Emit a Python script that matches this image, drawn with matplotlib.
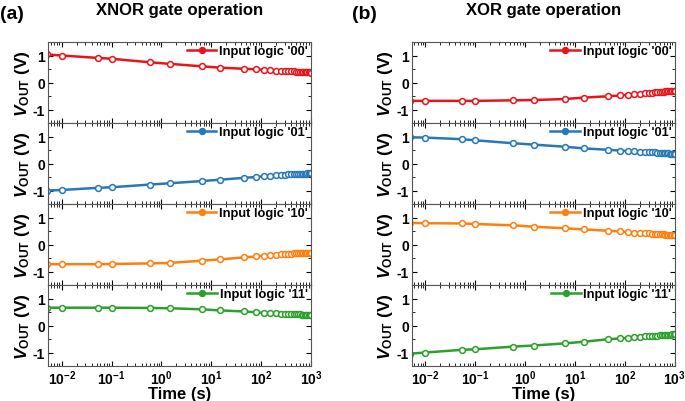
import matplotlib
matplotlib.use("Agg")
import matplotlib.pyplot as plt
from matplotlib.ticker import LogLocator, NullFormatter, MultipleLocator, FuncFormatter
import numpy as np

plt.rcParams['font.family'] = ['Liberation Sans', 'DejaVu Sans']
plt.rcParams['font.weight'] = 'bold'
plt.rcParams['axes.labelweight'] = 'bold'
plt.rcParams['axes.unicode_minus'] = False
plt.rcParams['mathtext.fontset'] = 'custom'
plt.rcParams['mathtext.rm'] = 'Liberation Sans:bold'
plt.rcParams['mathtext.it'] = 'Liberation Sans:bold:italic'
plt.rcParams['mathtext.bf'] = 'Liberation Sans:bold'

# measurement times (s)
time_s = [0.005, 0.01, 0.054, 0.1, 0.58, 1.5, 6.4, 15, 45, 80, 115, 150, 200,
          250, 300, 350, 400, 450, 500, 550, 600, 650, 700, 750, 800, 850,
          900, 950, 1000]

logic_labels = ["00", "01", "10", "11"]
colors = ['#e8141c', '#2878b8', '#ff7f0e', '#2ca02c']

# XNOR gate output (V)
xnor_00 = [1.04, 1.00, 0.91, 0.88, 0.75, 0.69, 0.60, 0.55, 0.51, 0.49, 0.47, 0.45, 0.44, 0.43, 0.42,
           0.42, 0.41, 0.41, 0.40, 0.40, 0.40, 0.39, 0.39, 0.39, 0.38, 0.38, 0.38, 0.38, 0.37]
xnor_01 = [-1.00, -0.98, -0.90, -0.88, -0.78, -0.73, -0.65, -0.60, -0.53, -0.50, -0.47, -0.45, -0.43, -0.42, -0.41,
           -0.40, -0.40, -0.39, -0.39, -0.38, -0.38, -0.38, -0.37, -0.37, -0.37, -0.36, -0.36, -0.36, -0.36]
xnor_10 = [-0.73, -0.73, -0.73, -0.72, -0.70, -0.68, -0.60, -0.55, -0.48, -0.44, -0.41, -0.39, -0.37, -0.36, -0.35,
           -0.34, -0.34, -0.33, -0.33, -0.32, -0.32, -0.32, -0.31, -0.31, -0.31, -0.30, -0.30, -0.30, -0.30]
xnor_11 = [0.66, 0.66, 0.66, 0.66, 0.65, 0.64, 0.60, 0.56, 0.52, 0.49, 0.47, 0.46, 0.45, 0.44, 0.43,
           0.43, 0.42, 0.42, 0.41, 0.41, 0.41, 0.40, 0.40, 0.40, 0.40, 0.39, 0.39, 0.39, 0.39]

# XOR gate output (V)
xor_00 = [-0.68, -0.68, -0.68, -0.68, -0.66, -0.65, -0.61, -0.56, -0.51, -0.48, -0.45, -0.43, -0.41, -0.39, -0.38,
          -0.37, -0.36, -0.35, -0.35, -0.34, -0.34, -0.33, -0.33, -0.33, -0.32, -0.32, -0.32, -0.31, -0.31]
xor_01 = [0.97, 0.96, 0.90, 0.86, 0.75, 0.70, 0.62, 0.56, 0.51, 0.48, 0.46, 0.45, 0.44, 0.43, 0.42,
          0.41, 0.41, 0.40, 0.40, 0.39, 0.39, 0.38, 0.38, 0.38, 0.37, 0.37, 0.37, 0.36, 0.36]
xor_10 = [0.80, 0.79, 0.78, 0.76, 0.71, 0.66, 0.60, 0.56, 0.51, 0.49, 0.46, 0.44, 0.43, 0.42, 0.41,
          0.40, 0.40, 0.39, 0.39, 0.38, 0.38, 0.37, 0.37, 0.37, 0.36, 0.36, 0.36, 0.36, 0.35]
xor_11 = [-1.04, -1.00, -0.90, -0.88, -0.78, -0.74, -0.66, -0.60, -0.51, -0.48, -0.45, -0.43, -0.41, -0.40, -0.39,
          -0.38, -0.37, -0.37, -0.36, -0.36, -0.35, -0.35, -0.35, -0.34, -0.34, -0.34, -0.33, -0.33, -0.33]

panels = [
    ("(a)", "XNOR gate operation", [xnor_00, xnor_01, xnor_10, xnor_11], 0.070, 0.0),
    ("(b)", "XOR gate operation", [xor_00, xor_01, xor_10, xor_11], 0.601, 0.514),
]


def log_label(v, pos):
    return r"$\mathbf{10^{%d}}$" % int(round(np.log10(v)))


fig = plt.figure(figsize=(6.85, 4.02), dpi=100)
ax_w = 0.384
top = 0.893
bottom = 0.087
h = (top - bottom) / 4

for letter, title, series, x0, lx in panels:
    for i, (vals, lab, col) in enumerate(zip(series, logic_labels, colors)):
        ax = fig.add_axes([x0, top - (i + 1) * h, ax_w, h])
        ax.plot(time_s, vals, color=col, lw=1.8, marker='o', ms=4.2,
                mfc='white', mec=col, mew=1.1, label=f"Input logic '{lab}'")
        ax.set_xscale('log')
        ax.set_xlim(0.0053, 1000)
        ax.set_ylim(-1.5, 1.5)
        ax.yaxis.set_major_locator(MultipleLocator(1))
        ax.yaxis.set_minor_locator(MultipleLocator(0.5))
        ax.xaxis.set_major_locator(LogLocator(base=10, numticks=10))
        ax.xaxis.set_major_formatter(FuncFormatter(log_label))
        ax.xaxis.set_minor_locator(LogLocator(base=10, subs=range(2, 10), numticks=10))
        ax.xaxis.set_minor_formatter(NullFormatter())
        ax.tick_params(which='both', direction='in', top=True, right=True, labelsize=10)
        ax.tick_params(which='major', length=3.5, width=0.8, pad=2)
        ax.tick_params(which='minor', length=2, width=0.6)
        for sp in ax.spines.values():
            sp.set_color('#555555')
        ax.set_ylabel(r"$V_{\mathrm{OUT}}$ (V)", fontsize=12.5, labelpad=1)
        leg = ax.legend(loc='upper right', frameon=False, fontsize=9.3, handlelength=2.3,
                        handletextpad=0.2, borderaxespad=0.05, borderpad=0.2)
        for hnd in leg.legend_handles:
            hnd.set_markerfacecolor(col)
        if i < 3:
            ax.tick_params(axis='x', labelbottom=False)
        else:
            ax.set_xlabel("Time (s)", fontsize=12, labelpad=-1)
        if i == 0:
            ax.set_title(title, fontsize=12, fontweight='bold', pad=20)
    fig.text(lx, 0.965, letter, fontsize=14, fontweight='bold', va='center')

fig.savefig("out.png", dpi=100)
